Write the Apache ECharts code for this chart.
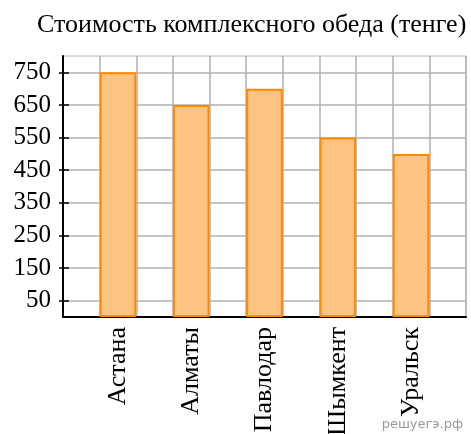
<!DOCTYPE html>
<html>
<head>
<meta charset="utf-8">
<script src="https://cdn.jsdelivr.net/npm/echarts@6/dist/echarts.min.js"></script>
<style>
  html, body { margin: 0; padding: 0; background: #fff; }
  #chart { width: 471px; height: 434px; }
</style>
</head>
<body>
<div id="chart"></div>
<script>
// Lunch prices by city
const cities = ['Астана', 'Алматы', 'Павлодар', 'Шымкент', 'Уральск'];
const prices = [750, 650, 700, 550, 500];
const yTickLabels = [50, 150, 250, 350, 450, 550, 650, 750];
const yMax = 800;
const gridStep = 50;
const titleText = 'Стоимость комплексного обеда (тенге)';
const siteMark = 'решуегэ.рф';

// Each city occupies one slot, with an empty slot before, between and after the bars
const slots = [''];
const slotValues = [null];
cities.forEach((c, i) => {
  slots.push(c, '');
  slotValues.push(prices[i], null);
});

const serif = '"Liberation Serif", "Times New Roman", serif';

const chart = echarts.init(document.getElementById('chart'), null, { renderer: 'canvas' });
chart.setOption({
  animation: false,
  backgroundColor: '#fff',
  title: {
    text: titleText,
    left: 32,
    top: 7,
    textStyle: { fontFamily: serif, fontSize: 26, fontWeight: 'normal', color: '#000' }
  },
  grid: {
    left: 63, right: 5, top: 56, bottom: 117,
    outerBoundsMode: 'none',
    containLabel: false,
    show: true, borderColor: '#b4b4b4', borderWidth: 1, backgroundColor: 'transparent'
  },
  xAxis: {
    type: 'category',
    data: slots,
    boundaryGap: true,
    axisLine: { show: true, lineStyle: { color: '#000', width: 2 } },
    axisTick: { show: false },
    splitLine: { show: true, interval: 0, lineStyle: { color: '#b0b0b0', width: 1.5 } },
    axisLabel: {
      interval: 0,
      rotate: 90,
      margin: 10,
      fontFamily: serif,
      fontSize: 26,
      color: '#000'
    }
  },
  yAxis: [{
    type: 'value',
    min: 0,
    max: yMax,
    interval: gridStep,
    axisLine: { show: true, lineStyle: { color: '#000', width: 2 } },
    axisTick: { show: true, length: 4, customValues: yTickLabels, lineStyle: { color: '#000', width: 1.5 } },
    splitLine: { show: true, lineStyle: { color: '#b0b0b0', width: 1.5 } },
    axisLabel: {
      customValues: yTickLabels,
      margin: 12,
      fontFamily: serif,
      fontSize: 25,
      color: '#000'
    }
  }, {
    // inner half of the crossing ticks
    type: 'value',
    min: 0,
    max: yMax,
    interval: gridStep,
    position: 'left',
    axisLine: { show: false },
    axisTick: { show: true, inside: true, length: 6, customValues: yTickLabels, lineStyle: { color: '#000', width: 1.5 } },
    splitLine: { show: false },
    axisLabel: { show: false }
  }],
  series: [{
    type: 'bar',
    data: slotValues,
    barWidth: '100%',
    itemStyle: { color: '#fdc380', borderColor: '#ff8a00', borderWidth: 2 }
  }],
  graphic: [{
    type: 'text',
    right: 8,
    bottom: 3,
    style: {
      text: siteMark,
      fontFamily: '"DejaVu Sans", sans-serif',
      fontSize: 13,
      fill: '#9a9a9a'
    }
  }]
});
</script>
</body>
</html>
